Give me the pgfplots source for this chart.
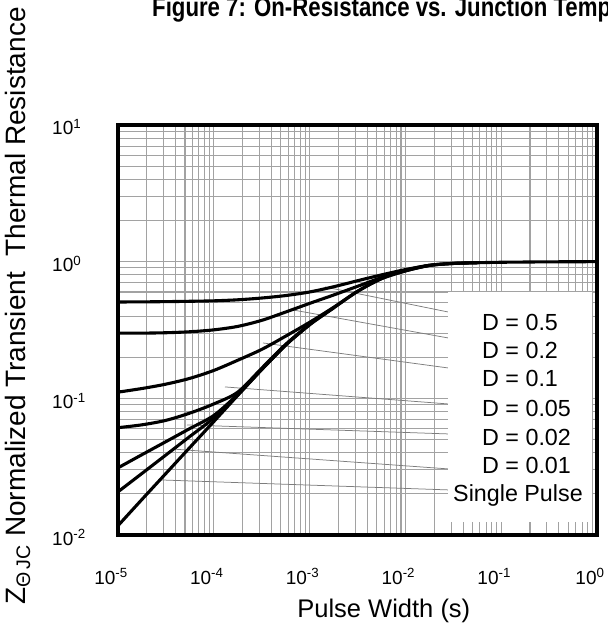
\documentclass[border=0pt]{standalone}
\usepackage{fontspec}
\setmainfont{Liberation Sans}
\usepackage{graphicx}
\usepackage{pgfplots}
\pgfplotsset{compat=1.18}
\definecolor{gridgray}{RGB}{162,162,162}
\definecolor{leadgray}{RGB}{125,125,125}
\begin{document}
\begin{tikzpicture}[x=1pt,y=1pt]
\path[use as bounding box] (0,0) rectangle (608,625);
\clip (0,0) rectangle (608,625);
\node[anchor=base west, inner sep=0, font=\fontsize{22.2}{27}\selectfont\bfseries] at (152,608) {\scalebox{1}[1.22]{Figure 7: On-Resistance vs. Junction Temperature}};
\begin{axis}[
  at={(118pt,90pt)}, anchor=south west,
  scale only axis, width=479pt, height=410pt,
  xmode=log, ymode=log,
  xmin=1e-5, xmax=1, ymin=1e-2, ymax=10,
  grid=both,
  major grid style={draw=gridgray, line width=1.1pt},
  minor grid style={draw=gridgray, line width=1.1pt},
  major tick length=0pt, minor tick length=0pt,
  axis line style={line width=3.8pt},
  xtick={1e-5,1e-4,1e-3,1e-2,1e-1,1},
  minor xtick={2e-5,3e-5,4e-5,5e-5,6e-5,7e-5,8e-5,9e-5,
               2e-4,3e-4,4e-4,5e-4,6e-4,7e-4,8e-4,9e-4,
               2e-3,3e-3,4e-3,5e-3,6e-3,7e-3,8e-3,9e-3,
               2e-2,3e-2,4e-2,5e-2,6e-2,7e-2,8e-2,9e-2,
               0.2,0.3,0.4,0.5,0.6,0.7,0.8,0.9},
  ytick={1e-2,1e-1,1,10},
  minor ytick={0.02,0.03,0.04,0.05,0.06,0.07,0.08,0.09,
               0.2,0.3,0.4,0.5,0.6,0.7,0.8,0.9,
               2,3,4,5,6,7,8,9},
  xticklabels={10\textsuperscript{-5},10\textsuperscript{-4},10\textsuperscript{-3},10\textsuperscript{-2},10\textsuperscript{-1},10\textsuperscript{0}},
  yticklabels={10\textsuperscript{-2},10\textsuperscript{-1},10\textsuperscript{0},10\textsuperscript{1}},
  ticklabel style={font=\fontsize{19}{21}\selectfont, inner sep=0pt},
  xticklabel style={anchor=base, xshift=-7pt, yshift=-49pt},
  yticklabel style={anchor=base west, xshift=-66pt, yshift=-10pt},
  xlabel={Pulse Width (s)},
  xlabel style={at={(axis description cs:0.555,0)}, anchor=base, yshift=-82pt, inner sep=0pt, font=\fontsize{25.5}{28}\selectfont},
  ylabel={Z\textsubscript{Θ\,JC} Normalized Transient~~Thermal Resistance},
  ylabel style={at={(axis description cs:-0.194,0.5585)}, anchor=base, inner sep=0pt, font=\fontsize{28}{30}\selectfont},
  clip=true,
]
% leader lines
\addplot[draw=leadgray, line width=0.75pt] coordinates {(1.449e-3,0.653) (0.02786,0.4285)};
\addplot[draw=leadgray, line width=0.75pt] coordinates {(6.71e-4,0.4432) (0.02786,0.2767)};
\addplot[draw=leadgray, line width=0.75pt] coordinates {(3.262e-4,0.2542) (0.02786,0.1669)};
\addplot[draw=leadgray, line width=0.75pt] coordinates {(1.309e-4,0.1212) (0.02786,0.0910)};
\addplot[draw=leadgray, line width=0.75pt] coordinates {(5.253e-5,0.0639) (0.02786,0.0549)};
\addplot[draw=leadgray, line width=0.75pt] coordinates {(3.662e-5,0.0426) (0.02786,0.03046)};
\addplot[draw=leadgray, line width=0.75pt] coordinates {(2.745e-5,0.0253) (0.02786,0.02138)};
% white label box
\fill[white] (rel axis cs:0.6889,0.0317) rectangle (rel axis cs:0.9896,0.5927);
% D = 0.5
\addplot[black, line width=3.1pt, smooth] coordinates {
(1e-5,0.507) (1.778e-5,0.508) (3.162e-5,0.51) (5.623e-5,0.513) (1e-4,0.517) (1.778e-4,0.526)
(3.162e-4,0.542) (5.623e-4,0.565) (1e-3,0.60) (1.778e-3,0.655) (3.162e-3,0.725) (5.623e-3,0.80)
(1e-2,0.875) (1.778e-2,0.94) (3.162e-2,0.972) (5.623e-2,0.983)};
% D = 0.2
\addplot[black, line width=3.1pt, smooth] coordinates {
(1e-5,0.300) (1.778e-5,0.300) (3.162e-5,0.302) (5.623e-5,0.307) (1e-4,0.317) (1.778e-4,0.336)
(3.162e-4,0.372) (5.623e-4,0.428) (1e-3,0.495) (1.778e-3,0.57) (3.162e-3,0.66) (5.623e-3,0.765)
(1e-2,0.865) (1.778e-2,0.938) (3.162e-2,0.971) (5.623e-2,0.982)};
% D = 0.1
\addplot[black, line width=3.1pt, smooth] coordinates {
(1e-5,0.111) (1.778e-5,0.118) (3.162e-5,0.127) (5.623e-5,0.14) (1e-4,0.16) (1.778e-4,0.19)
(3.162e-4,0.228) (5.623e-4,0.285) (1e-3,0.36) (1.778e-3,0.463) (3.162e-3,0.607) (5.623e-3,0.752)
(1e-2,0.857) (1.778e-2,0.94)};
% D = 0.05
\addplot[black, line width=3.1pt, smooth] coordinates {
(1e-5,0.061) (1.778e-5,0.064) (3.162e-5,0.069) (5.623e-5,0.078) (1e-4,0.091) (1.778e-4,0.111)
(3.162e-4,0.166) (5.623e-4,0.248) (1e-3,0.347) (1.778e-3,0.459)};
% D = 0.02
\addplot[black, line width=3.1pt, smooth] coordinates {
(1e-5,0.031) (1.778e-5,0.0387) (3.162e-5,0.0482) (5.623e-5,0.0601) (1e-4,0.075) (1.778e-4,0.107)
(3.162e-4,0.164) (5.623e-4,0.246) (1e-3,0.346)};
% D = 0.01
\addplot[black, line width=3.1pt, smooth] coordinates {
(1e-5,0.0207) (1.778e-5,0.0282) (3.162e-5,0.0385) (5.623e-5,0.0526) (1e-4,0.0718) (1.778e-4,0.106)
(3.162e-4,0.163) (5.623e-4,0.245)};
% Single pulse
\addplot[black, line width=3.1pt, smooth] coordinates {
(1e-5,0.0117) (1.778e-5,0.0182) (3.162e-5,0.0282) (5.623e-5,0.0437) (1e-4,0.0676) (1.778e-4,0.105)
(3.162e-4,0.162) (5.623e-4,0.245) (1e-3,0.345) (1.778e-3,0.458) (3.162e-3,0.605) (5.623e-3,0.75)
(1e-2,0.855) (1.778e-2,0.94) (3.162e-2,0.97) (5.623e-2,0.982) (0.1,0.99) (0.3162,0.997) (1,1.0)};
% labels
\node[anchor=base west, inner sep=0pt, font=\fontsize{23.3}{28}\selectfont] at (rel axis cs:0.7599,0.5) {D = 0.5};
\node[anchor=base west, inner sep=0pt, font=\fontsize{23.3}{28}\selectfont] at (rel axis cs:0.7599,0.4317) {D = 0.2};
\node[anchor=base west, inner sep=0pt, font=\fontsize{23.3}{28}\selectfont] at (rel axis cs:0.7599,0.3634) {D = 0.1};
\node[anchor=base west, inner sep=0pt, font=\fontsize{23.3}{28}\selectfont] at (rel axis cs:0.7599,0.2902) {D = 0.05};
\node[anchor=base west, inner sep=0pt, font=\fontsize{23.3}{28}\selectfont] at (rel axis cs:0.7599,0.2195) {D = 0.02};
\node[anchor=base west, inner sep=0pt, font=\fontsize{23.3}{28}\selectfont] at (rel axis cs:0.7599,0.1512) {D = 0.01};
\node[anchor=base, inner sep=0pt, font=\fontsize{23.3}{28}\selectfont] at (rel axis cs:0.8351,0.0805) {Single Pulse};
\end{axis}
\end{tikzpicture}
\end{document}
